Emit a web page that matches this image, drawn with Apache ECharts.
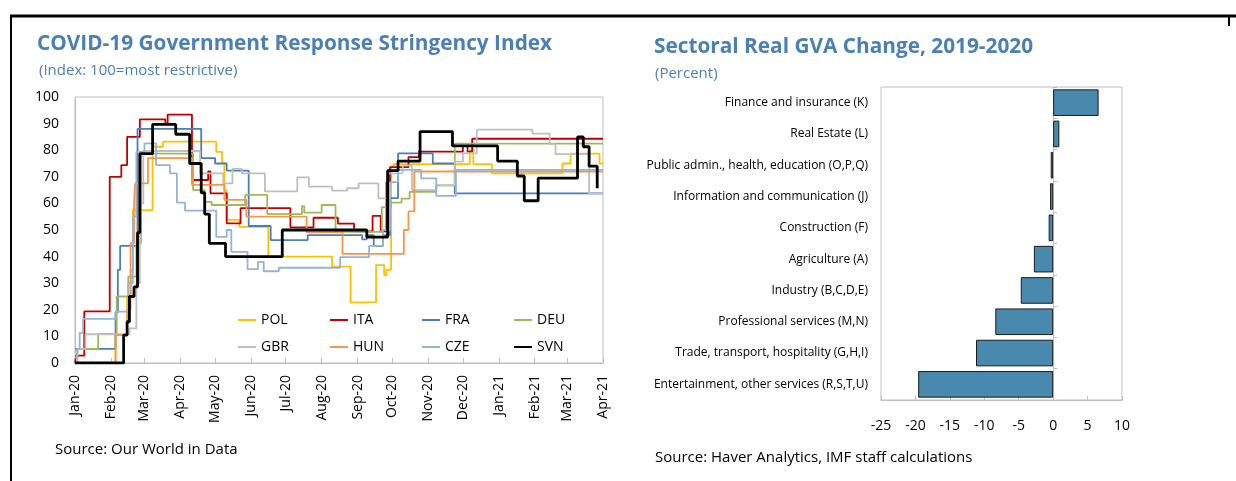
<!DOCTYPE html>
<html>
<head>
<meta charset="utf-8">
<script src="https://cdn.jsdelivr.net/npm/echarts@6/dist/echarts.min.js"></script>
<style>
  html, body { margin: 0; padding: 0; background: #ffffff; }
  #chart { width: 1236px; height: 481px; }
</style>
</head>
<body>
<div id="chart"></div>
<script>
// ---------- Left panel: stringency index (step change points) ----------
const countries = ['POL', 'ITA', 'FRA', 'DEU', 'GBR', 'HUN', 'CZE', 'SVN'];

const POL = [['2020-01-01',0],['2020-02-05',10.5],['2020-02-15',25],['2020-02-18',35],['2020-02-20',57.5],['2020-03-08',81.3],['2020-03-17',83.2],['2020-05-02',79.4],['2020-05-07',75.2],['2020-05-09',65],['2020-05-11',53.8],['2020-05-22',51.2],['2020-06-16',40],['2020-08-10',36.2],['2020-08-26',22.8],['2020-09-17',36.8],['2020-09-24',33],['2020-09-26',35],['2020-09-30',73.8],['2020-10-02',74.8],['2020-12-07',80],['2020-12-10',74.8],['2020-12-26',71.3],['2021-02-25',75],['2021-03-04',78.7],['2021-03-29',75],['2021-04-01',75]];

const ITA = [['2020-01-01',0],['2020-01-02',2.8],['2020-01-09',19.4],['2020-01-31',70],['2020-02-10',74.4],['2020-02-15',85],['2020-02-26',91.6],['2020-03-19',90],['2020-03-21',93.4],['2020-04-11',68.8],['2020-04-25',72],['2020-04-27',63.8],['2020-05-11',52.5],['2020-05-23',58.2],['2020-07-05',51],['2020-07-25',54.6],['2020-08-15',52.4],['2020-08-29',49.5],['2020-09-14',55.3],['2020-09-21',49.5],['2020-09-26',68],['2020-09-29',73.6],['2020-10-15',77.4],['2020-10-24',79.5],['2020-12-01',81.5],['2020-12-05',79.5],['2020-12-09',84.3],['2021-04-01',84.3]];

const FRA = [['2020-01-01',5.3],['2020-02-05',19],['2020-02-07',35],['2020-02-09',44],['2020-02-24',88],['2020-04-19',77],['2020-05-01',75],['2020-05-11',72.3],['2020-05-30',51.5],['2020-06-18',46.2],['2020-07-20',48.1],['2020-09-05',46.5],['2020-09-09',48.1],['2020-09-15',44],['2020-09-23',48],['2020-09-29',62],['2020-10-06',78.8],['2020-11-05',75],['2020-11-24',63.8],['2021-04-01',63.8]];

const DEU = [['2020-01-01',0],['2020-01-03',5.3],['2020-01-21',10.9],['2020-02-06',25],['2020-02-16',32.5],['2020-02-23',45],['2020-02-27',78.7],['2020-04-12',65],['2020-04-22',60.6],['2020-04-28',59.4],['2020-05-27',63.2],['2020-06-15',56],['2020-07-15',59],['2020-07-17',56.5],['2020-08-01',59.4],['2020-08-13',49.3],['2020-09-22',58.6],['2020-09-30',60.3],['2020-10-09',61.8],['2020-10-16',64.3],['2020-11-08',66.8],['2020-11-24',82.5],['2021-04-01',82.5]];

const GBR = [['2020-01-01',0],['2020-01-03',5.3],['2020-01-10',10.8],['2020-02-17',13],['2020-02-23',30],['2020-02-26',60],['2020-02-29',79.7],['2020-04-18',71.3],['2020-05-08',67.5],['2020-05-16',73],['2020-05-24',71.3],['2020-06-13',64.5],['2020-07-11',69.8],['2020-07-21',66.3],['2020-08-10',64.8],['2020-08-23',65.7],['2020-09-02',67.5],['2020-09-19',61.9],['2020-09-27',71.3],['2020-10-10',74.3],['2020-10-18',65],['2020-11-08',66.8],['2020-11-24',75.7],['2020-12-01',78.8],['2020-12-13',87.7],['2021-01-30',86.2],['2021-02-14',82.3],['2021-02-19',78.5],['2021-03-20',63.7],['2021-04-01',63.7]];

const HUN = [['2020-01-01',0],['2020-02-05',10.5],['2020-02-15',20],['2020-02-18',45],['2020-02-21',60],['2020-02-22',67.5],['2020-03-04',77],['2020-04-11',67],['2020-05-09',61.3],['2020-05-28',55],['2020-07-19',49.2],['2020-08-19',41],['2020-10-11',50],['2020-10-15',57],['2020-10-20',72],['2021-04-01',72]];

const CZE = [['2020-01-01',2],['2020-01-03',5.3],['2020-01-05',11.3],['2020-01-08',16.6],['2020-02-05',19.3],['2020-02-16',30],['2020-02-20',55],['2020-02-23',79.4],['2020-03-01',82.6],['2020-03-11',74.4],['2020-03-23',71.3],['2020-03-29',60.3],['2020-04-05',57.3],['2020-05-02',47.4],['2020-05-11',50],['2020-05-15',41.8],['2020-05-29',35.3],['2020-06-07',38],['2020-06-12',34.5],['2020-06-25',35.8],['2020-08-17',39.8],['2020-09-11',44],['2020-09-23',50],['2020-09-29',68],['2020-10-06',72.6],['2020-10-26',69.4],['2020-11-08',62.8],['2020-11-25',72.6],['2021-04-01',72.6]];

const SVN = [['2020-01-01',0],['2020-02-12',10.5],['2020-02-15',15.5],['2020-02-17',25],['2020-02-21',28.6],['2020-02-24',49],['2020-02-26',78.7],['2020-03-08',89.7],['2020-03-28',86],['2020-04-09',75],['2020-04-19',64],['2020-04-22',56],['2020-04-26',45],['2020-05-10',40],['2020-06-28',50],['2020-09-09',47.3],['2020-09-27',72.3],['2020-10-06',75.9],['2020-10-25',87],['2020-11-22',81.6],['2020-12-31',75.9],['2021-01-17',70.3],['2021-01-23',61],['2021-02-04',69.5],['2021-03-10',85],['2021-03-15',81.3],['2021-03-20',74],['2021-03-27',65.7]];

const monthTicks = ['2020-01-01','2020-02-01','2020-03-01','2020-04-01','2020-05-01','2020-06-01','2020-07-01','2020-08-01','2020-09-01','2020-10-01','2020-11-01','2020-12-01','2021-01-01','2021-02-01','2021-03-01','2021-04-01'];
const monthLabels = ['Jan-20','Feb-20','Mar-20','Apr-20','May-20','Jun-20','Jul-20','Aug-20','Sep-20','Oct-20','Nov-20','Dec-20','Jan-21','Feb-21','Mar-21','Apr-21'];
const yTicks = [0, 100, 10]; // min, max, interval

// ---------- Right panel: sectoral GVA ----------
const sectors = ['Finance and insurance (K)','Real Estate (L)','Public admin., health, education (O,P,Q)','Information and communication (J)','Construction (F)','Agriculture (A)','Industry (B,C,D,E)','Professional services (M,N)','Trade, transport, hospitality (G,H,I)','Entertainment, other services (R,S,T,U)'];
const gvaChange = [6.6, 0.9, -0.35, -0.45, -0.65, -2.8, -4.7, -8.4, -11.2, -19.6];
const gvaTicks = [-25, 10, 5]; // min, max, interval

// ---------- styling ----------
const seriesData = { POL, ITA, FRA, DEU, GBR, HUN, CZE, SVN };
const colors = { POL:'#FFC000', ITA:'#C00000', FRA:'#4A7EBB', DEU:'#9BBB59', GBR:'#BFBFBF', HUN:'#F79646', CZE:'#95B3D7', SVN:'#000000' };
const FONT = 'Open Sans';
const titleBlue = '#4A80B5';
const axisGray = '#BFBFBF';

const toTs = d => echarts.number.parseDate(d).getTime();
const tickTs = monthTicks.map(toTs);

const leftGrid = { left: 75, top: 97, width: 528, height: 266 };
const rightGrid = { left: 881, top: 87, width: 241, height: 313 };

const chart = echarts.init(document.getElementById('chart'), null, { renderer: 'canvas' });

const lineSeries = countries.map(c => ({
  name: c,
  type: 'line',
  xAxisIndex: 0,
  yAxisIndex: 0,
  step: 'end',
  symbol: 'none',
  showSymbol: false,
  data: seriesData[c].map(p => [toTs(p[0]), p[1]]),
  color: colors[c],
  lineStyle: { color: colors[c], width: c === 'SVN' ? 2.8 : 1.8 },
  z: c === 'SVN' ? 5 : 3
}));

const zeroOffset = -((0 - gvaTicks[0]) / (gvaTicks[1] - gvaTicks[0])) * rightGrid.width;

const option = {
  animation: false,
  backgroundColor: '#ffffff',
  textStyle: { fontFamily: FONT },
  title: [
    { text: 'COVID-19 Government Response Stringency Index', left: 37, top: 34, padding: 0,
      textStyle: { fontFamily: FONT, fontSize: 20.8, fontWeight: 'bold', color: titleBlue } },
    { text: '(Index: 100=most restrictive)', left: 39, top: 63, padding: 0,
      textStyle: { fontFamily: FONT, fontSize: 15, fontWeight: 'normal', color: titleBlue } },
    { text: 'Sectoral Real GVA Change, 2019-2020', left: 654, top: 37, padding: 0,
      textStyle: { fontFamily: FONT, fontSize: 20.8, fontWeight: 'bold', color: titleBlue } },
    { text: '(Percent)', left: 655, top: 66, padding: 0,
      textStyle: { fontFamily: FONT, fontSize: 15, fontWeight: 'normal', color: titleBlue } },
    { text: 'Source: Our World in Data', left: 55, top: 442, padding: 0,
      textStyle: { fontFamily: FONT, fontSize: 15, fontWeight: 'normal', color: '#000' } },
    { text: 'Source: Haver Analytics, IMF staff calculations', left: 655, top: 450, padding: 0,
      textStyle: { fontFamily: FONT, fontSize: 15, fontWeight: 'normal', color: '#000' } }
  ],
  legend: {
    data: countries,
    left: 237, top: 313, width: 370,
    orient: 'horizontal',
    itemWidth: 18, itemHeight: 14, itemGap: 13,
    padding: 0,
    itemStyle: { color: 'transparent', borderWidth: 0, opacity: 0 },
    textStyle: { fontFamily: FONT, fontSize: 14, color: '#000', width: 55, lineHeight: 14 }
  },
  grid: [
    Object.assign({ show: true, borderColor: axisGray, borderWidth: 1, backgroundColor: 'transparent' }, leftGrid),
    Object.assign({ show: true, borderColor: axisGray, borderWidth: 1, backgroundColor: 'transparent' }, rightGrid)
  ],
  xAxis: [
    {
      type: 'value', gridIndex: 0,
      min: tickTs[0], max: tickTs[tickTs.length - 1],
      splitLine: { show: false },
      axisLine: { show: true, lineStyle: { color: axisGray, width: 1 } },
      axisTick: { show: true, inside: true, length: 5, lineStyle: { color: axisGray }, customValues: tickTs },
      axisLabel: {
        customValues: tickTs, rotate: 90, margin: 12,
        fontFamily: FONT, fontSize: 14, color: '#000',
        formatter: function (v) {
          let best = 0, bd = Infinity;
          tickTs.forEach((t, i) => { const d = Math.abs(t - v); if (d < bd) { bd = d; best = i; } });
          return monthLabels[best];
        }
      }
    },
    {
      type: 'value', gridIndex: 1,
      min: gvaTicks[0], max: gvaTicks[1], interval: gvaTicks[2],
      splitLine: { show: false },
      axisLine: { show: true, onZero: false, lineStyle: { color: axisGray } },
      axisTick: { show: true, inside: true, length: 4, lineStyle: { color: axisGray } },
      axisLabel: { margin: 19, fontFamily: FONT, fontSize: 14, color: '#000' }
    }
  ],
  yAxis: [
    {
      type: 'value', gridIndex: 0,
      min: yTicks[0], max: yTicks[1], interval: yTicks[2],
      splitLine: { show: false },
      axisLine: { show: true, lineStyle: { color: axisGray } },
      axisTick: { show: false },
      axisLabel: { margin: 16, fontFamily: FONT, fontSize: 14, color: '#000' }
    },
    {
      type: 'category', gridIndex: 1, inverse: true, data: sectors,
      axisLine: { show: false }, axisTick: { show: false }, splitLine: { show: false },
      axisLabel: { margin: 13, fontFamily: FONT, fontSize: 12, color: '#000' }
    },
    {
      type: 'category', gridIndex: 1, inverse: true, data: sectors,
      position: 'left', offset: zeroOffset,
      axisLine: { show: true, onZero: false, lineStyle: { color: axisGray } },
      axisTick: { show: true, inside: true, length: 4, lineStyle: { color: axisGray } },
      axisLabel: { show: false }, splitLine: { show: false }
    }
  ],
  series: lineSeries.concat([
    {
      name: 'GVA change',
      type: 'bar',
      xAxisIndex: 1, yAxisIndex: 1,
      data: gvaChange,
      barCategoryGap: '15%',
      itemStyle: { color: '#4A89AE', borderColor: '#1a1a1a', borderWidth: 1 },
      z: 4
    }
  ]),
  graphic: [
    { type: 'line', shape: { x1: 10, y1: 16, x2: 1236, y2: 16 }, style: { stroke: '#000', lineWidth: 3 } },
    { type: 'line', shape: { x1: 11, y1: 15, x2: 11, y2: 481 }, style: { stroke: '#000', lineWidth: 2 } },
    { type: 'line', shape: { x1: 1229, y1: 15, x2: 1229, y2: 26 }, style: { stroke: '#000', lineWidth: 2 } }
  ]
};

chart.setOption(option);
</script>
</body>
</html>
